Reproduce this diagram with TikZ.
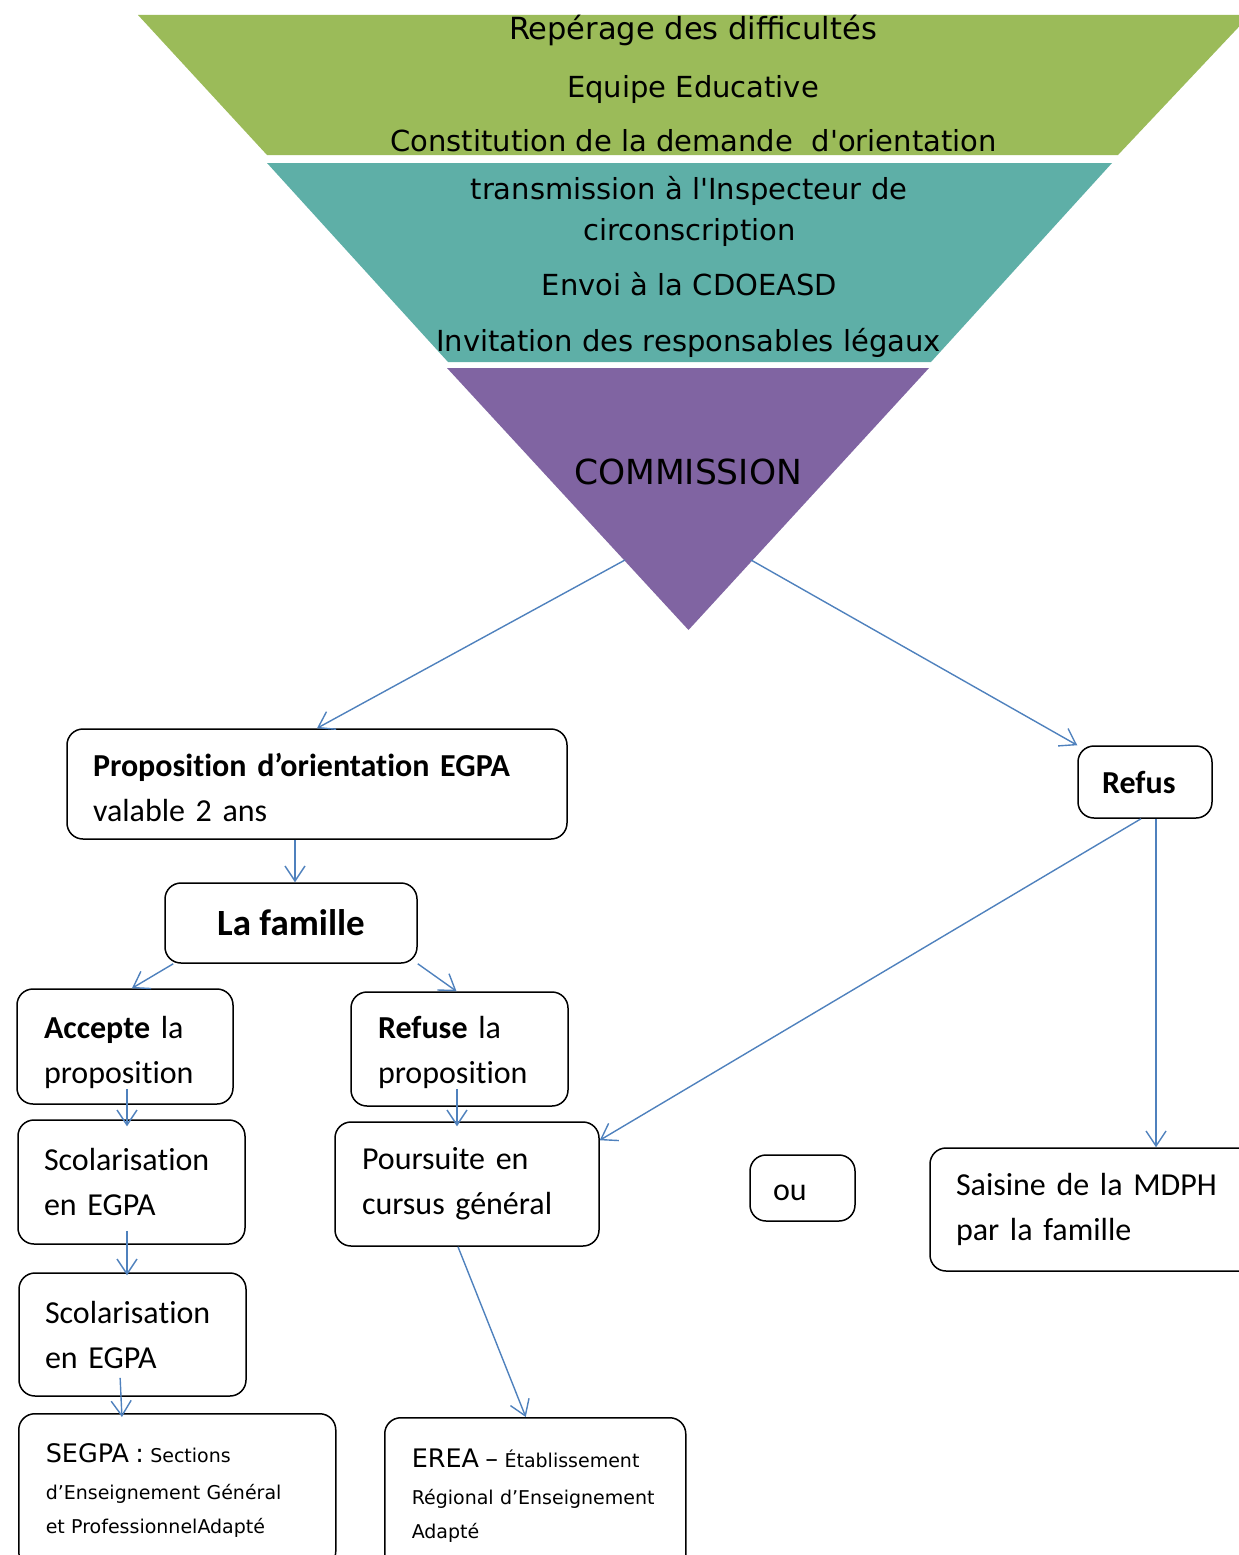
\documentclass[tikz,border=0pt]{standalone}
\usepackage{fontspec}
\setmainfont{Carlito}[Ligatures=NoCommon]
\newfontfamily\comicfont{DejaVu Sans}[Ligatures=TeXOff]
\usetikzlibrary{arrows.meta}
\definecolor{vertentonnoir}{HTML}{9BBB59}
\definecolor{bleuentonnoir}{HTML}{5EAFA7}
\definecolor{violetentonnoir}{HTML}{8064A2}
\definecolor{bleufleche}{HTML}{4F81BD}
\newcommand{\haut}[1]{\rule{0pt}{#1pt}}
\tikzset{
  boite/.style={draw, rounded corners=16pt, line width=1.5pt, align=left, inner ysep=0pt, font=\fontsize{32}{45}\selectfont},
  fleche/.style={draw=bleufleche, line width=1.4pt, -{Straight Barb[length=15pt,width=20pt,line width=1.4pt]}},
  entonnoir/.style={anchor=base, inner sep=0pt, font=\comicfont\fontsize{29}{35}\selectfont},
}
\begin{document}
\begin{tikzpicture}[x=1pt,y=-1pt]
\useasboundingbox (0,0) rectangle (1239,1555);
\clip (0,0) rectangle (1239,1555);
\fill[vertentonnoir] (138,15) -- (1250,15) -- (1118,155) -- (267,155) -- cycle;
\fill[bleuentonnoir] (267,163) -- (1112,163) -- (931,362) -- (448,362) -- cycle;
\fill[violetentonnoir] (447,368) -- (929,368) -- (688.5,630) -- cycle;
\node[entonnoir, font=\comicfont\fontsize{30.5}{35}\selectfont] (reperage) at (693,40) {Repérage des difficultés};
\node[entonnoir] (equipe) at (693,97) {Equipe Educative};
\node[entonnoir] (demande) at (693.5,151) {Constitution de la demande\ \ d'orientation};
\node[entonnoir] (transmission) at (689,199) {transmission à l'Inspecteur de};
\node[entonnoir] (circo) at (689.5,240) {circonscription};
\node[entonnoir] (envoi) at (689.5,295) {Envoi à la CDOEASD};
\node[entonnoir] (invitation) at (688.5,351) {Invitation des responsables légaux};
\node[entonnoir, font=\comicfont\fontsize{34.5}{35}\selectfont] (commission) at (688,484) {COMMISSION};
\coordinate (comG) at (625,560);
\coordinate (comD) at (751,560);
\node[boite, text width=448pt, inner xsep=26pt, minimum height=110pt] (prop) at (317,784) {\haut{31}\textbf{Proposition d’orientation EGPA}\\valable 2 ans};
\node[boite, align=center, minimum width=252pt, minimum height=80pt, font=\bfseries\fontsize{37}{45}\selectfont] (famille) at (291,923) {La famille};
\node[boite, text width=162pt, inner xsep=27pt, minimum height=115pt] (accepte) at (125,1046.5) {\haut{35}\textbf{Accepte} la\\proposition};
\node[boite, text width=163pt, inner xsep=27pt, minimum height=114pt] (refuse) at (459.5,1049) {\haut{29}\textbf{Refuse} la\\proposition};
\node[boite, text width=175pt, inner xsep=26pt, minimum height=124pt] (scol1) at (131.5,1182) {Scolarisation\\en EGPA};
\node[boite, text width=175pt, inner xsep=26pt, minimum height=123pt] (scol2) at (132.5,1334.5) {Scolarisation\\en EGPA};
\node[boite, text width=210pt, inner xsep=27pt, minimum height=124pt] (pours) at (467,1184) {Poursuite en\\cursus général};
\node[boite, text width=59pt, inner xsep=23pt, minimum height=66pt] (ou) at (802.5,1188) {\haut{25}ou};
\node[boite, text width=86pt, inner xsep=24pt, minimum height=72pt, font=\bfseries\fontsize{32}{45}\selectfont] (refus) at (1145,782) {Refus};
\node[boite, text width=288pt, inner xsep=26pt, minimum height=123pt] (saisine) at (1100,1209.5) {Saisine de la MDPH\\par la famille};
\node[boite, anchor=north west, text width=263pt, inner xsep=27pt, inner ysep=30pt, font=\comicfont\fontsize{19}{37}\selectfont] (segpa) at (18,1413) {{\fontsize{25.5}{37}\selectfont SEGPA :} Sections\\d’Enseignement Général\\[-3pt]et ProfessionnelAdapté};
\node[boite, anchor=north west, text width=247pt, inner xsep=27pt, inner ysep=31pt, font=\comicfont\fontsize{19}{37}\selectfont] (erea) at (384,1417) {{\fontsize{25.5}{37}\selectfont EREA –} Établissement\\Régional d’Enseignement\\[-3pt]Adapté};
\draw[fleche] (comG) -- (prop.north);
\draw[fleche] (comD) -- (refus.north west);
\draw[fleche] ([xshift=-22pt]prop.south) -- ([xshift=4pt]famille.north);
\draw[fleche] ([xshift=9pt]famille.south west) -- ([xshift=7pt]accepte.north);
\draw[fleche] (famille.south east) -- ([xshift=-3pt]refuse.north);
\draw[fleche, shorten <=-16pt, shorten >=-7pt] ([xshift=2pt]accepte.south) -- ([xshift=-4.5pt]scol1.north);
\draw[fleche, shorten <=-14pt, shorten >=-3pt] ([xshift=-4.5pt]scol1.south) -- ([xshift=-5.5pt]scol2.north);
\draw[fleche, shorten <=-19pt, shorten >=-4pt] ([xshift=-11.5pt]scol2.south) -- ([xshift=-55.5pt]segpa.north);
\draw[fleche, shorten <=-18pt, shorten >=-5pt] ([xshift=-2.5pt]refuse.south) -- ([xshift=-10pt]pours.north);
\draw[fleche] ([xshift=-4pt]refus.south) -- ([yshift=-19pt]pours.north east);
\draw[fleche] ([xshift=11pt]refus.south) -- ([xshift=11pt]refus.south |- saisine.north);
\draw[fleche] ([xshift=-9pt]pours.south) -- ([xshift=-9.5pt]erea.north);
\end{tikzpicture}
\end{document}
